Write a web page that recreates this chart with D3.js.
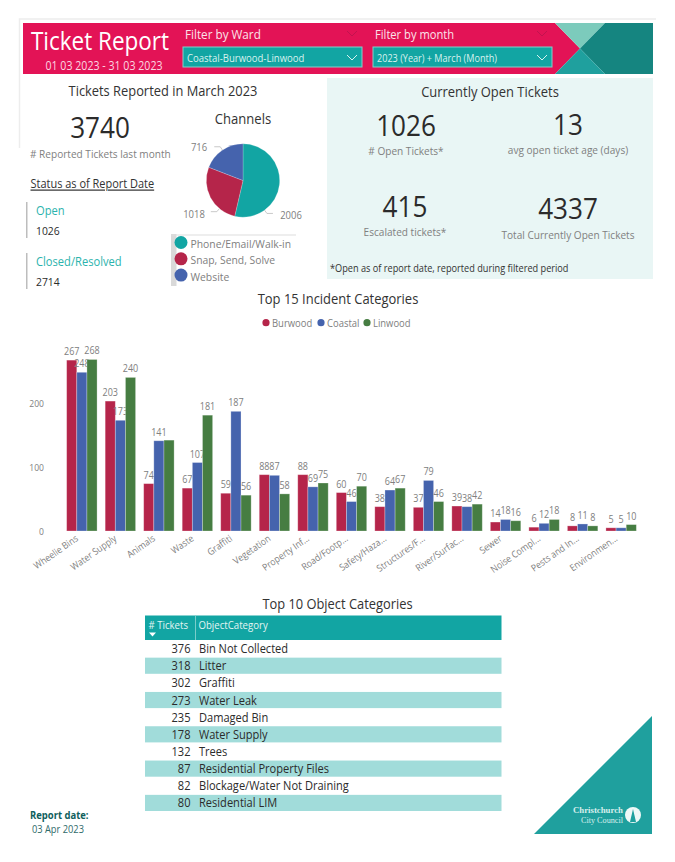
<!DOCTYPE html>
<html>
<head>
<meta charset="utf-8">
<script src="https://cdn.jsdelivr.net/npm/d3@7"></script>
<style>
  html, body { margin: 0; padding: 0; background: #fff; }
  svg { display: block; }
  text { font-family: "Open Sans", sans-serif; }
</style>
</head>
<body>
<script>
const width = 675
const height = 862

// incident chart
const categories = ['Wheelie Bins', 'Water Supply', 'Animals', 'Waste', 'Graffiti', 'Vegetation', 'Property Inf...', 'Road/Footp...', 'Safety/Haza...', 'Structures/F...', 'River/Surfac...', 'Sewer', 'Noise Compl...', 'Pests and In...', 'Environmen...']
const wards = ['Burwood', 'Coastal', 'Linwood']
const burwood = [267, 203, 74, 67, 59, 88, 88, 60, 38, 37, 39, 14, 6, 8, 5]
const coastal = [248, 173, 141, 107, 187, 87, 69, 46, 64, 79, 38, 18, 12, 11, 5]
const linwood = [268, 240, 142, 181, 56, 58, 75, 70, 67, 46, 42, 16, 18, 8, 10]
const yTicks = [0, 100, 200]

// channels pie
const channels = ['Phone/Email/Walk-in', 'Snap, Send, Solve', 'Website']
const channelCounts = [2006, 1018, 716]

// object table
const objectCounts = [376, 318, 302, 273, 235, 178, 132, 87, 82, 80]
const objectNames = ['Bin Not Collected', 'Litter', 'Graffiti', 'Water Leak', 'Damaged Bin', 'Water Supply', 'Trees', 'Residential Property Files', 'Blockage/Water Not Draining', 'Residential LIM']

const teal = '#12a5a3'
const pink = '#e31356'
const red = '#b5254a'
const blue = '#4563ad'
const green = '#467d42'
const greyText = '#808080'
const darkText = '#2b2b2b'

const svg = d3.select('body').append('svg')
  .attr('width', width)
  .attr('height', height)

function label(x, y, str, size, color, anchor, g) {
  return (g || svg).append('text')
    .attr('x', x)
    .attr('y', y)
    .attr('dominant-baseline', 'central')
    .attr('text-anchor', anchor || 'start')
    .attr('font-size', size)
    .attr('fill', color)
    .text(str)
}

function poly(points, fill) {
  return svg.append('polygon').attr('points', points.join(' ')).attr('fill', fill)
}

// page frame remnants
svg.append('path').attr('d', 'M19.5,148V19H656').attr('fill', 'none').attr('stroke', '#ededed').attr('stroke-width', 1.5)

// header band
poly(['23,23', '555,23', '580,48.5', '555,74', '23,74'], pink)
poly(['555,23', '605,23', '580,48.5'], '#7ccbbc')
poly(['605,23', '653,23', '653,74', '605,74', '580,48.5'], '#158580')
poly(['580,48.5', '605,74', '555,74'], '#1fa09e')

label(100, 40, 'Ticket Report', 25, '#fff', 'middle')
label(104, 65, '01 03 2023 - 31 03 2023', 11.8, '#fbd5e0', 'middle')

const filters = [
  { x: 183, title: 'Filter by Ward', value: 'Coastal-Burwood-Linwood', titleSize: 13, valueSize: 10.6 },
  { x: 373, title: 'Filter by month', value: '2023 (Year) + March (Month)', titleSize: 12.4, valueSize: 10.1 },
]
filters.forEach(f => {
  label(f.x + 2, 34, f.title, f.titleSize, '#fbe3ea')
  svg.append('rect')
    .attr('x', f.x).attr('y', 47).attr('width', 179).attr('height', 20)
    .attr('fill', teal).attr('stroke', '#84cfc9').attr('stroke-width', 1)
  label(f.x + 4, 57.5, f.value, f.valueSize, '#d9f2ef')
  const cx = f.x + 169
  svg.append('path').attr('d', `M${cx - 5},55 L${cx},60 L${cx + 5},55`)
    .attr('fill', 'none').attr('stroke', '#d9f2ef')
  svg.append('path').attr('d', `M${cx - 5},31 L${cx},36 L${cx + 5},31`)
    .attr('fill', 'none').attr('stroke', '#c2134f')
})

// open tickets panel
svg.append('rect').attr('x', 327).attr('y', 78).attr('width', 326).attr('height', 201).attr('fill', '#e9f6f5')

label(490, 91, 'Currently Open Tickets', 14.4, '#333', 'middle')
const kpis = [
  [406, 124, '1026', 150, '# Open Tickets*'],
  [568, 123, '13', 149, 'avg open ticket age (days)'],
  [405, 205, '415', 231, 'Escalated tickets*'],
  [568, 207, '4337', 234, 'Total Currently Open Tickets'],
]
kpis.forEach(k => {
  label(k[0], k[1], k[2], 29, darkText, 'middle')
  label(k[0], k[3], k[4], 11.2, greyText, 'middle')
})
label(330, 268, '*Open as of report date, reported during filtered period', 10.2, '#333')

// left column
label(163, 90, 'Tickets Reported in March 2023', 14.3, '#333', 'middle')
label(100, 126, '3740', 29, darkText, 'middle')
label(30, 153, '# Reported Tickets last month', 11.2, greyText)
label(30.5, 183, 'Status as of Report Date', 12.2, '#333').attr('text-decoration', 'underline')

const statuses = [
  ['Open', '1026', 202],
  ['Closed/Resolved', '2714', 253],
]
statuses.forEach(s => {
  svg.append('rect').attr('x', 26).attr('y', s[2]).attr('width', 1.5).attr('height', 36).attr('fill', '#bdbdbd')
  label(36, s[2] + 8, s[0], 12.4, '#2bb3ad')
  label(36, s[2] + 28, s[1], 11.5, darkText)
})

// channels pie
label(243, 118, 'Channels', 14.5, '#333', 'middle')
const pieCx = 243
const pieCy = 180.5
const pieR = 36.7
const channelColor = d3.scaleOrdinal().domain(channels).range([teal, red, blue])
const pieG = svg.append('g').attr('transform', `translate(${pieCx},${pieCy})`)
const pieArcs = d3.pie().sort(null)(channelCounts)
pieG.selectAll('path.slice')
  .data(pieArcs)
  .enter()
  .append('path')
  .attr('class', 'slice')
  .attr('d', d3.arc().innerRadius(0).outerRadius(pieR))
  .attr('fill', (d, i) => channelColor(channels[i]))
  .attr('stroke', '#fff')
  .attr('stroke-opacity', 0.4)
  .attr('stroke-width', 0.5)

// leader lines sit away from the slice middles in the original
const leaders = [
  { angle: 144, side: 1, tx: 48 },
  { angle: 220, side: -1, tx: -49 },
  { angle: 326, side: -1, tx: -44 },
]
leaders.forEach((l, i) => {
  const a = l.angle * Math.PI / 180
  const p0 = d3.pointRadial(a, pieR)
  const p1 = d3.pointRadial(a, pieR + 4)
  const xEnd = p1[0] + l.side * 6
  pieG.append('path')
    .attr('d', `M${p0[0]},${p0[1]} L${p1[0]},${p1[1]} L${xEnd},${p1[1]}`)
    .attr('fill', 'none').attr('stroke', '#bbb').attr('stroke-width', 0.8)
  label(l.tx, p1[1] + (i === 2 ? 0 : 2), channelCounts[i], 10.5, greyText, 'middle', pieG)
})

svg.append('rect').attr('x', 171).attr('y', 234).attr('width', 5.5).attr('height', 52).attr('fill', '#d9d9d9')
svg.append('rect').attr('x', 171).attr('y', 234.5).attr('width', 125).attr('height', 1).attr('fill', '#dedede')
channels.forEach((c, i) => {
  const y = 242.5 + i * 16.3
  svg.append('circle').attr('cx', 181).attr('cy', y).attr('r', 6.5).attr('fill', channelColor(c))
  label(190.5, y + 1, c, 11.5, greyText)
})

// top 15 bar chart
label(338, 298, 'Top 15 Incident Categories', 14.4, '#333', 'middle')
const wardColor = d3.scaleOrdinal().domain(wards).range([red, blue, green])
const wardLegendX = [266, 321, 367]
wards.forEach((w, i) => {
  svg.append('circle').attr('cx', wardLegendX[i]).attr('cy', 322.7).attr('r', 3.6).attr('fill', wardColor(w))
  label(wardLegendX[i] + 6, 322.7, w, 10.5, greyText)
})

const x0 = d3.scaleBand().domain(categories).range([62.6, 640.4]).paddingInner(0.21).paddingOuter(0.105)
const x1 = d3.scaleBand().domain(wards).range([0, x0.bandwidth()])
const y = d3.scaleLinear().domain([0, 300]).range([531, 339])

svg.append('g')
  .attr('transform', 'translate(46,0)')
  .call(d3.axisLeft(y).tickValues(yTicks).tickSize(0).tickPadding(2))
  .call(g => g.select('.domain').remove())
  .selectAll('text')
  .attr('font-size', 9.5)
  .attr('fill', greyText)
  .style('font-family', '"Open Sans"')

svg.append('g')
  .attr('transform', 'translate(-3,531)')
  .call(d3.axisBottom(x0).tickSize(0).tickPadding(0))
  .call(g => g.select('.domain').remove())
  .selectAll('text')
  .attr('font-size', 9.6)
  .attr('fill', greyText)
  .attr('text-anchor', 'end')
  .attr('dy', 0)
  .attr('transform', 'translate(0,9) rotate(-35)')
  .style('font-family', '"Open Sans"')

const wardValues = [burwood, coastal, linwood]
// the chart drops this one label in the original
const hiddenLabel = d => d.cat === 'Animals' && d.ward === 'Linwood'

// each series is painted over the previous one, so a bar can cut the label of its left neighbour
wards.forEach((w, wi) => {
  const rows = categories.map((c, ci) => ({ ward: w, cat: c, value: wardValues[wi][ci] }))
  const g = svg.append('g')

  g.selectAll('rect')
    .data(rows)
    .enter()
    .append('rect')
    .attr('x', d => x0(d.cat) + x1(d.ward))
    .attr('y', d => y(d.value))
    .attr('width', x1.bandwidth())
    .attr('height', d => y(0) - y(d.value))
    .attr('fill', d => wardColor(d.ward))
    .attr('stroke', '#fff')
    .attr('stroke-opacity', 0.35)
    .attr('stroke-width', 0.8)

  g.selectAll('text')
    .data(rows.filter(d => !hiddenLabel(d)))
    .enter()
    .append('text')
    .attr('x', d => x0(d.cat) + x1(d.ward) + x1.bandwidth() / 2)
    .attr('y', d => y(d.value) - 9)
    .attr('dominant-baseline', 'central')
    .attr('text-anchor', 'middle')
    .attr('font-size', 10)
    .attr('fill', greyText)
    .text(d => d.value)
})

// object table
label(337.5, 603, 'Top 10 Object Categories', 14.3, '#333', 'middle')
const tableLeft = 145
const tableRight = 501.5
const tableTop = 640
const rowH = 17.15
const rowY = d3.scaleBand().domain(objectNames).range([tableTop, tableTop + rowH * objectNames.length])

svg.append('rect').attr('x', tableLeft).attr('y', 615.5).attr('width', tableRight - tableLeft).attr('height', tableTop - 615.5).attr('fill', teal)
svg.append('rect').attr('x', 195).attr('y', 616).attr('width', 0.7).attr('height', 24).attr('fill', '#a8dedb')
label(148.5, 624.5, '# Tickets', 10.7, '#e3f5f3')
label(198.5, 624.5, 'ObjectCategory', 10.7, '#e3f5f3')
poly(['149,632.5', '156,632.5', '152.5,636.5'], '#fff')

objectNames.forEach((name, i) => {
  const top = rowY(name)
  if (i % 2 === 1) {
    svg.append('rect').attr('x', tableLeft).attr('y', top + 0.5).attr('width', tableRight - tableLeft).attr('height', rowH - 1).attr('fill', '#a1dcda')
  }
  label(190.5, top + rowH / 2, objectCounts[i], 12.3, darkText, 'end')
  label(199, top + rowH / 2, name, 12.3, darkText)
})

// footer
label(30, 815, 'Report date:', 10.5, '#0f5e5c').attr('font-weight', 700)
label(32, 829, '03 Apr 2023', 10.3, '#2f6b6a')

poly(['534,834', '652,834', '652,716'], '#1fa09e')
const logo = [
  label(623, 810.5, 'Christchurch', 7.6, '#d8efed', 'end').attr('font-weight', 700).attr('textLength', 50),
  label(623, 820, 'City Council', 7.6, '#d8efed', 'end').attr('textLength', 42),
]
logo.forEach(t => t.style('font-family', 'Liberation Serif').attr('lengthAdjust', 'spacingAndGlyphs').classed('logo', true))
svg.append('circle').attr('cx', 633).attr('cy', 815).attr('r', 8).attr('fill', '#eef8f7')
svg.append('path').attr('d', 'M633,809 L636,822 L630,822 Z').attr('fill', '#1fa09e')

// Open Sans runs wider than the original's face, squeeze every label a bit
svg.selectAll('text:not(.logo)').each(function () {
  const w = this.getComputedTextLength()
  d3.select(this).attr('textLength', w * 0.9).attr('lengthAdjust', 'spacingAndGlyphs')
})
</script>
</body>
</html>
